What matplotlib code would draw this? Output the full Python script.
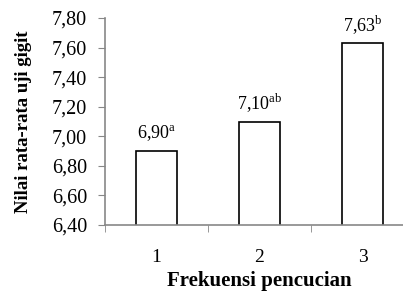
import numpy as np
import matplotlib
matplotlib.use("Agg")
import matplotlib.pyplot as plt

plt.rcParams['font.family'] = ['Liberation Serif', 'DejaVu Serif']
plt.rcParams['mathtext.fontset'] = 'custom'
plt.rcParams['mathtext.rm'] = 'Liberation Serif'

categories = ["1", "2", "3"]
values = [6.90, 7.10, 7.63]
letters = ["a", "ab", "b"]
yticks = [6.40, 6.60, 6.80, 7.00, 7.20, 7.40, 7.60, 7.80]

fig = plt.figure(figsize=(4.03, 2.95), dpi=100)
# axes runs a bit past the right edge, like the original
ax = fig.add_axes([105/403, 1 - 225/295, 309/403, 207/295])

x = np.arange(len(categories))
ax.bar(x, values, width=0.4, color="white", edgecolor="black", linewidth=1.2)

for xi, v, l in zip(x, values, letters):
    label = f"{v:.2f}".replace(".", ",") + r"$^{\mathrm{" + l + "}}$"
    ax.text(xi, v + 0.05, label, ha="center", va="bottom", fontsize=13)

ax.set_ylim(6.40, 7.80)
ax.set_xlim(-0.5, 2.5)
ax.set_yticks(yticks)
ax.set_yticklabels([f"{t:.2f}".replace(".", ",") for t in yticks], fontsize=14.5)
ax.set_xticks(x)
ax.set_xticklabels(categories, fontsize=14)
ax.set_xticks([-0.5, 0.5, 1.5, 2.5], minor=True)
ax.tick_params(axis="x", which="major", length=0, pad=17)
ax.tick_params(axis="x", which="minor", length=5, color="#878787", direction="out")
ax.tick_params(axis="y", length=5, color="#878787", direction="out", pad=8)

for s in ["top", "right"]:
    ax.spines[s].set_visible(False)
for s in ["left", "bottom"]:
    ax.spines[s].set_color("#878787")
    ax.spines[s].set_linewidth(1.2)

ax.set_ylabel("Nilai rata-rata uji gigit", fontsize=13.5, fontweight="bold", labelpad=14)
ax.set_xlabel("Frekuensi pencucian", fontsize=15, fontweight="bold", labelpad=4)

fig.savefig("out.png", dpi=100)
